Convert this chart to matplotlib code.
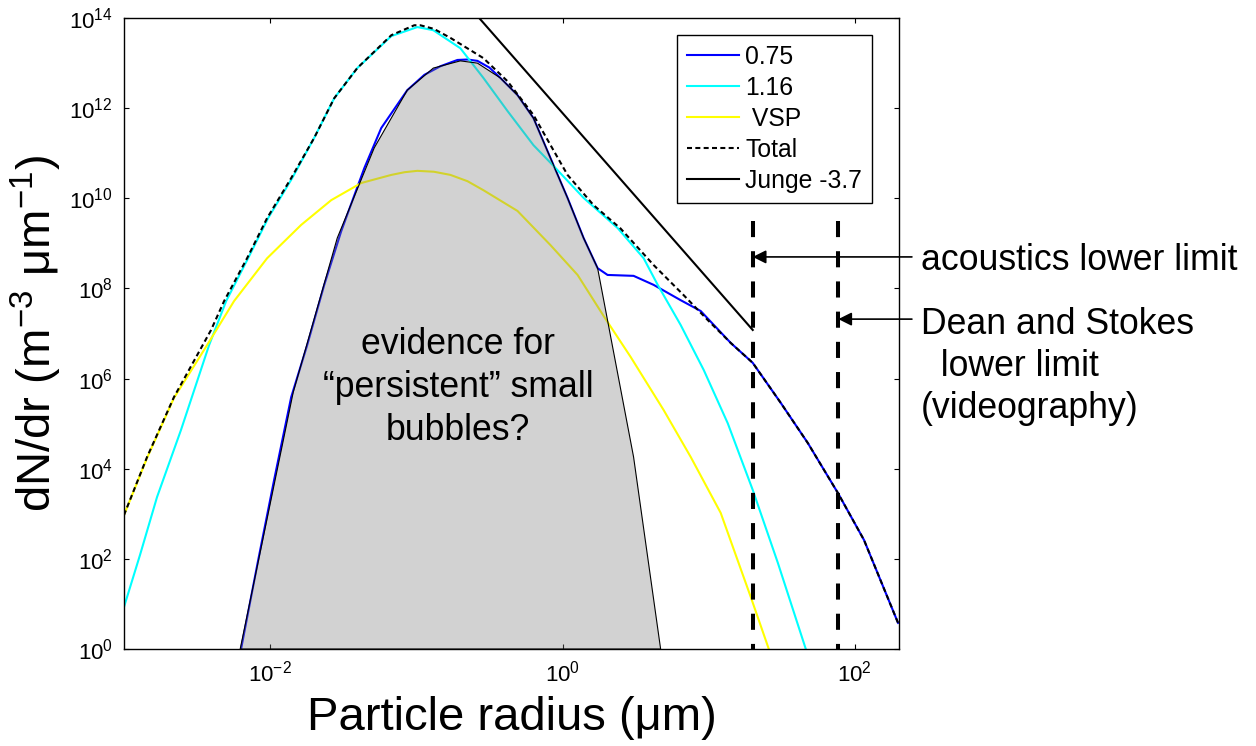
import matplotlib
matplotlib.use('Agg')
import matplotlib.pyplot as plt
from matplotlib.ticker import NullLocator
import numpy as np

plt.rcParams['font.family'] = ['Liberation Sans', 'DejaVu Sans']
plt.rcParams['mathtext.fontset'] = 'custom'
plt.rcParams['mathtext.rm'] = 'Liberation Sans'
plt.rcParams['mathtext.it'] = 'Liberation Sans:italic'
plt.rcParams['mathtext.bf'] = 'Liberation Sans:bold'
plt.rcParams['mathtext.sf'] = 'Liberation Sans'

# size spectra as log10(radius / um) and log10(dN/dr / m^-3 um^-1)
fit075_logr = [-2.199, -2.082, -1.973, -1.856, -1.747, -1.630, -1.514, -1.356, -1.240, -1.062,
               -0.945, -0.836, -0.719, -0.650, -0.582, -0.500, -0.425, -0.308, -0.199, -0.082,
               0.034, 0.144, 0.240, 0.308, 0.486, 0.623, 0.808, 0.945, 1.151, 1.301,
               1.493, 1.678, 1.884, 2.062, 2.295]
fit075_logn = [0.00, 1.97, 3.75, 5.59, 6.74, 8.08, 9.27, 10.67, 11.56, 12.40,
               12.74, 12.93, 13.07, 13.08, 13.05, 12.90, 12.67, 12.29, 11.78, 10.89,
               10.01, 9.12, 8.45, 8.30, 8.28, 8.08, 7.74, 7.50, 6.79, 6.35,
               5.46, 4.57, 3.46, 2.42, 0.58]

fit116_logr = [-3.000, -2.890, -2.774, -2.610, -2.418, -2.301, -2.151, -2.014, -1.849, -1.699,
               -1.562, -1.404, -1.171, -0.993, -0.884, -0.699, -0.541, -0.377, -0.199, -0.062,
               0.144, 0.377, 0.555, 0.651, 0.808, 0.966, 1.130, 1.301, 1.473, 1.664]
fit116_logn = [0.93, 2.09, 3.37, 4.86, 6.74, 7.72, 8.67, 9.56, 10.45, 11.34,
               12.22, 12.89, 13.60, 13.80, 13.73, 13.33, 12.67, 11.94, 11.18, 10.72,
               10.01, 9.34, 8.67, 8.08, 7.19, 6.19, 5.01, 3.53, 1.91, 0.00]

vsp_logr = [-3.000, -2.842, -2.658, -2.432, -2.247, -2.021, -1.788, -1.582, -1.377, -1.171,
            -1.080, -0.993, -0.880, -0.767, -0.650, -0.541, -0.308, -0.082, 0.103, 0.281,
            0.466, 0.692, 0.877, 1.082, 1.288, 1.411]
vsp_logn = [2.97, 4.24, 5.57, 6.74, 7.72, 8.67, 9.41, 9.96, 10.34, 10.52,
            10.58, 10.61, 10.59, 10.52, 10.38, 10.18, 9.72, 8.96, 8.30, 7.39,
            6.48, 5.30, 4.26, 3.02, 1.15, 0.00]

total_logr = [-3.000, -2.842, -2.658, -2.404, -2.315, -2.158, -2.021, -1.856, -1.699, -1.562,
              -1.404, -1.171, -1.014, -0.973, -0.880, -0.767, -0.541, -0.377, -0.199, -0.082,
              0.034, 0.212, 0.397, 0.623, 0.829, 0.993, 1.151, 1.301, 1.493, 1.678,
              1.884, 2.062, 2.295]
total_logn = [2.97, 4.26, 5.59, 7.08, 7.72, 8.67, 9.56, 10.45, 11.34, 12.22,
              12.89, 13.62, 13.84, 13.84, 13.76, 13.56, 13.11, 12.60, 11.85, 11.18,
              10.52, 9.85, 9.33, 8.52, 7.85, 7.30, 6.79, 6.35, 5.46, 4.57,
              3.46, 2.42, 0.58]

# outline of the "persistent" small bubble population
persist_logr = [-2.205, -1.842, -1.541, -1.288, -1.062, -0.884, -0.699, -0.582, -0.425,
                -0.308, -0.199, -0.082, 0.034, 0.144, 0.240, 0.486, 0.671]
persist_logn = [0.00, 5.70, 9.12, 11.12, 12.40, 12.89, 13.05, 13.00, 12.67,
                12.29, 11.78, 10.89, 10.01, 9.12, 8.45, 4.26, 0.00]

# Junge power law, slope -3.7
junge_r = [0.2, 20.0]
junge_n = [3.0e14, 1.2e7]

acoustic_limit = 20.0
dean_stokes_limit = 77.0

labels = ['0.75', '1.16', ' VSP', 'Total', 'Junge -3.7']


def pow10(v):
    return 10.0 ** np.asarray(v)


fig = plt.figure(figsize=(12.56, 7.46), dpi=100)
ax = fig.add_axes([0.0987, 0.130, 0.617, 0.8458])
ax.set_xscale('log')
ax.set_yscale('log')

h1, = ax.plot(pow10(fit075_logr), pow10(fit075_logn), color='#0000ff', lw=1.5, zorder=2)
h2, = ax.plot(pow10(fit116_logr), pow10(fit116_logn), color='#00ffff', lw=1.5, zorder=2)
h3, = ax.plot(pow10(vsp_logr), pow10(vsp_logn), color='#ffff00', lw=1.5, zorder=2)
h4, = ax.plot(pow10(total_logr), pow10(total_logn), color='k', lw=1.5,
              dashes=(2.4, 1.6), zorder=4)
h5, = ax.plot(junge_r, junge_n, color='k', lw=1.5, zorder=4)

# shaded region sits over the fitted curves
ax.fill(pow10(persist_logr), pow10(persist_logn), facecolor=(0.5, 0.5, 0.5, 0.35),
        edgecolor='k', lw=0.8, zorder=3)

# measurement lower limits
ymax_lim = 10 ** 9.5
for xl in (acoustic_limit, dean_stokes_limit):
    ax.plot([xl, xl], [ymax_lim, 1.0], color='k', lw=2.9, dashes=(4, 3.5), zorder=4)

arrow_kw = dict(arrowstyle='-|>', color='k', lw=1.2, mutation_scale=20, shrinkA=0, shrinkB=0)
tail_x = 10 ** 2.39
ax.annotate('', xy=(acoustic_limit, 10 ** 8.70), xytext=(tail_x, 10 ** 8.70),
            arrowprops=arrow_kw, annotation_clip=False)
ax.annotate('', xy=(dean_stokes_limit, 10 ** 7.32), xytext=(tail_x, 10 ** 7.32),
            arrowprops=arrow_kw, annotation_clip=False)

# multi-line texts are placed by the baseline of their last line
text_x = 10 ** 2.452
ax.text(text_x, 10 ** 8.41, 'acoustics lower limit', ha='left', va='baseline',
        fontsize=25.7, clip_on=False)
ax.text(text_x, 10 ** 5.125, 'Dean and Stokes\n  lower limit\n(videography)', ha='left',
        va='baseline', fontsize=25.7, multialignment='left', linespacing=1.26,
        clip_on=False)
ax.text(0.194, 10 ** 4.64, 'evidence for\n\u201cpersistent\u201d small\nbubbles?', ha='center',
        va='baseline', fontsize=25.7, multialignment='center', linespacing=1.3, zorder=5)

ax.set_xlim(1e-3, 200)
ax.set_ylim(1, 1e14)
ax.set_xticks([1e-2, 1, 1e2])
ax.set_yticks([10.0 ** k for k in range(0, 15, 2)])
ax.xaxis.set_minor_locator(NullLocator())
ax.yaxis.set_minor_locator(NullLocator())
ax.tick_params(which='both', direction='in', top=True, right=True, length=3.6,
               width=0.8, labelsize=16, pad=8)
for sp in ax.spines.values():
    sp.set_linewidth(1.0)

ax.set_xlabel('Particle radius (\u03bcm)', fontsize=34, labelpad=7)
ax.set_ylabel('dN/dr (m$^{-3}$ \u03bcm$^{-1}$)', fontsize=34, labelpad=4)

leg = ax.legend([h1, h2, h3, h4, h5], labels, loc='upper right',
                bbox_to_anchor=(0.965, 0.973), borderaxespad=0, fontsize=17.8,
                handlelength=2.1, handletextpad=0.25, labelspacing=0.28, borderpad=0.4,
                fancybox=False, framealpha=1, edgecolor='k')
leg.get_frame().set_linewidth(1.0)
leg.set_zorder(6)

fig.savefig('out.png', dpi=100)
